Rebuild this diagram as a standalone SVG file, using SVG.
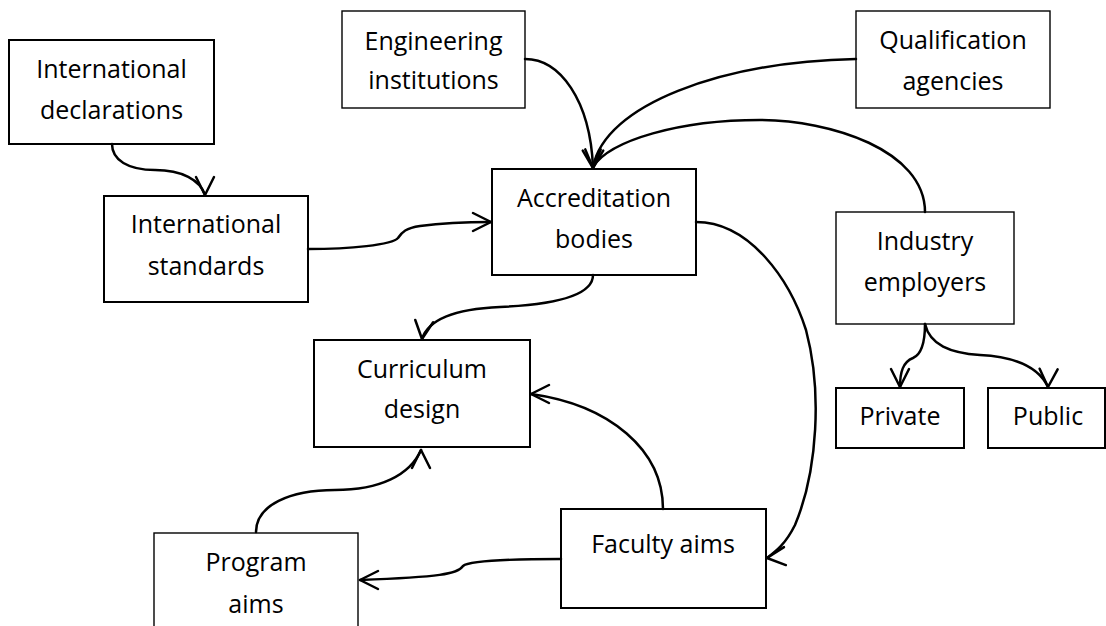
<svg xmlns="http://www.w3.org/2000/svg" xmlns:xlink="http://www.w3.org/1999/xlink" width="1106" height="626" viewBox="0 0 1106 626">
<style>
.box{fill:#fff;stroke:#000;stroke-width:2}
.thin{stroke-width:1.4}
.lbl{font-family:"Open Sans","Noto Sans","Liberation Sans",sans-serif;font-size:25px;fill:#000;text-anchor:middle}
.con{fill:none;stroke:#000;stroke-width:2.5;stroke-linecap:round;stroke-linejoin:round}
.ah{fill:none;stroke:#000;stroke-width:2.5;stroke-linecap:round;stroke-linejoin:round}
</style>
<defs>
<path id="ah" class="ah" d="M-18,-9 L0,0 L-18,9"/>
</defs>
<rect width="1106" height="626" fill="#fff"/>
<g id="n-decl"><rect class="box" x="9" y="40" width="205" height="104"/><text class="lbl" x="111.5" y="78">International</text><text class="lbl" x="111.5" y="119">declarations</text></g>
<g id="n-std"><rect class="box" x="104" y="196" width="204" height="106"/><text class="lbl" x="206" y="233">International</text><text class="lbl" x="206" y="275">standards</text></g>
<g id="n-eng"><rect class="box thin" x="342" y="11" width="183" height="97"/><text class="lbl" x="433.5" y="50">Engineering</text><text class="lbl" x="433.5" y="89">institutions</text></g>
<g id="n-acc"><rect class="box" x="492" y="169" width="204" height="106"/><text class="lbl" x="594" y="207">Accreditation</text><text class="lbl" x="594" y="248">bodies</text></g>
<g id="n-qual"><rect class="box thin" x="856" y="11" width="194" height="97"/><text class="lbl" x="953" y="49">Qualification</text><text class="lbl" x="953" y="90">agencies</text></g>
<g id="n-ind"><rect class="box thin" x="836" y="212" width="178" height="112"/><text class="lbl" x="925" y="250">Industry</text><text class="lbl" x="925" y="291">employers</text></g>
<g id="n-priv"><rect class="box" x="836" y="388" width="128" height="60"/><text class="lbl" x="900" y="425">Private</text></g>
<g id="n-pub"><rect class="box" x="988" y="388" width="117" height="60"/><text class="lbl" x="1048" y="425">Public</text></g>
<g id="n-cur"><rect class="box" x="314" y="340" width="216" height="107"/><text class="lbl" x="422" y="378">Curriculum</text><text class="lbl" x="422" y="418">design</text></g>
<g id="n-fac"><rect class="box" x="561" y="509" width="205" height="99"/><text class="lbl" x="663" y="553">Faculty aims</text></g>
<g id="n-prog"><rect class="box thin" x="154" y="533" width="204" height="110"/><text class="lbl" x="256" y="571">Program</text><text class="lbl" x="256" y="613">aims</text></g>
<g id="connectors">
<path class="con" d="M112,144 C112,160 128,170 155,170 C182,170 200,180 205,195"/>
<path class="con" d="M308,249 C350,249 392,245 398,238 C402,232 406,228 420,226 C450,222 480,222 491,222"/>
<path class="con" d="M525,59 C560,59 590,100 593,167"/>
<path class="con" d="M856,59 C720,62 605,105 593,167"/>
<path class="con" d="M925,212 C925,150 830,120 760,120 C680,120 610,140 593,167"/>
<path class="con" d="M593,275 C593,298 545,305 500,307 C455,309 428,320 422,339"/>
<path class="con" d="M696,222 C750,222 790,280 806,330 C822,390 818,470 795,525 C785,545 775,552 767,558"/>
<path class="con" d="M663,509 C663,450 610,405 531,394"/>
<path class="con" d="M561,559 C520,559 470,560 463,566 C458,574 440,577 360,580"/>
<path class="con" d="M256,532 C256,505 290,490 335,490 C380,490 410,475 421,450"/>
<path class="con" d="M925,324 C925,345 920,355 913,358 C903,362 900,372 900,387"/>
<path class="con" d="M925,324 C930,345 950,353 980,355 C1020,357 1040,370 1048,387"/>
<use xlink:href="#ah" transform="translate(205,195) rotate(90)"/>
<use xlink:href="#ah" transform="translate(491,222) rotate(0)"/>
<use xlink:href="#ah" transform="translate(593,168) rotate(86)"/>
<use xlink:href="#ah" transform="translate(593,168) rotate(94)"/>
<use xlink:href="#ah" transform="translate(422,339) rotate(97)"/>
<use xlink:href="#ah" transform="translate(531,394) rotate(180)"/>
<use xlink:href="#ah" transform="translate(767,558) rotate(174)"/>
<use xlink:href="#ah" transform="translate(360,580) rotate(180)"/>
<use xlink:href="#ah" transform="translate(421,450) rotate(-90)"/>
<use xlink:href="#ah" transform="translate(900,387) rotate(90)"/>
<use xlink:href="#ah" transform="translate(1048,387) rotate(92)"/>
</g>
</svg>
